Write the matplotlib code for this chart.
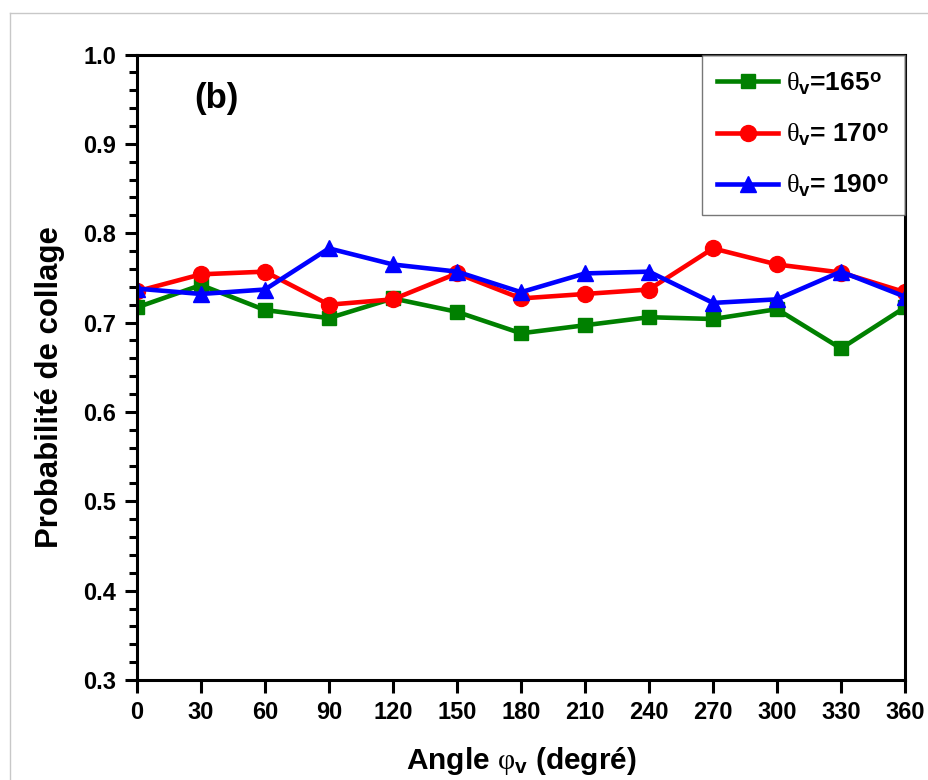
import matplotlib
matplotlib.use("Agg")
import matplotlib.pyplot as plt
from matplotlib.lines import Line2D
from matplotlib.ticker import MultipleLocator

plt.rcParams['font.family'] = ['Liberation Sans', 'DejaVu Sans']
plt.rcParams['font.weight'] = 'bold'
plt.rcParams['mathtext.fontset'] = 'custom'
plt.rcParams['mathtext.rm'] = 'Liberation Sans:bold'
plt.rcParams['mathtext.it'] = 'Liberation Serif:normal'
plt.rcParams['mathtext.bf'] = 'Liberation Sans:bold'
plt.rcParams['mathtext.sf'] = 'Liberation Sans'

angles = [0, 30, 60, 90, 120, 150, 180, 210, 240, 270, 300, 330, 360]
p165 = [0.717, 0.742, 0.714, 0.705, 0.727, 0.712, 0.688, 0.697, 0.706, 0.704, 0.715, 0.671, 0.717]
p170 = [0.735, 0.754, 0.757, 0.720, 0.726, 0.755, 0.727, 0.732, 0.737, 0.783, 0.765, 0.756, 0.734]
p190 = [0.738, 0.732, 0.737, 0.783, 0.765, 0.757, 0.734, 0.755, 0.757, 0.722, 0.726, 0.757, 0.729]
labels = [r'$\mathit{θ}_\mathrm{v}$=165$^\mathsf{o}$', r'$\mathit{θ}_\mathrm{v}$= 170$^\mathsf{o}$', r'$\mathit{θ}_\mathrm{v}$= 190$^\mathsf{o}$']
xticks = [0, 30, 60, 90, 120, 150, 180, 210, 240, 270, 300, 330, 360]
yticks = [0.3, 0.4, 0.5, 0.6, 0.7, 0.8, 0.9, 1.0]

fig = plt.figure(figsize=(9.29, 7.8), dpi=100)
ax = fig.add_axes([137/929, 1-680/780, (905-137)/929, (680-54.5)/780])

ax.plot(angles, p165, color='#008000', marker='s', ms=10.5, lw=3.3, label=labels[0])
ax.plot(angles, p170, color='#ff0000', marker='o', ms=11.5, lw=3.3, label=labels[1])
ax.plot(angles, p190, color='#0000ff', marker='^', ms=12, lw=3.3, label=labels[2])

ax.set_xlim(0, 360)
ax.set_ylim(0.3, 1.0)
ax.set_xticks(xticks)
ax.set_xticklabels([str(v) for v in xticks])
ax.set_yticks(yticks)
ax.set_yticklabels([f'{v:.1f}' for v in yticks])
ax.yaxis.set_minor_locator(MultipleLocator(0.02))
ax.tick_params(axis='both', which='major', direction='out', length=9, width=2.2, labelsize=17, pad=6)
ax.tick_params(axis='y', which='minor', direction='out', length=5.5, width=2.2)
ax.tick_params(top=False, right=False)
for s in ax.spines.values():
    s.set_linewidth(2.2)

ax.set_xlabel(r'Angle $\mathit{φ}_\mathrm{v}$ (degré)', fontsize=21.5, fontweight='bold', labelpad=15)
ax.set_ylabel('Probabilité de collage', fontsize=22.4, fontweight='bold')
ax.yaxis.set_label_coords(-0.094, 0.468)
ax.text(0.075, 0.93, '(b)', transform=ax.transAxes, fontsize=25, fontweight='bold', va='center', ha='left')

leg = ax.legend(loc='upper right', borderaxespad=0, fontsize=19, frameon=True, fancybox=False,
                handlelength=2.3, labelspacing=0.95, borderpad=0.6, handletextpad=0.3)
leg.get_frame().set_edgecolor('#555555')
leg.get_frame().set_linewidth(1.0)
for t in leg.get_texts():
    t.set_fontweight('bold')

fig.add_artist(Line2D([10/929, 10/929], [0, 1-13/780], color='#c8c8c8', lw=1))
fig.add_artist(Line2D([10/929, 1], [1-13/780, 1-13/780], color='#c8c8c8', lw=1))

fig.savefig('out.png', dpi=100)
